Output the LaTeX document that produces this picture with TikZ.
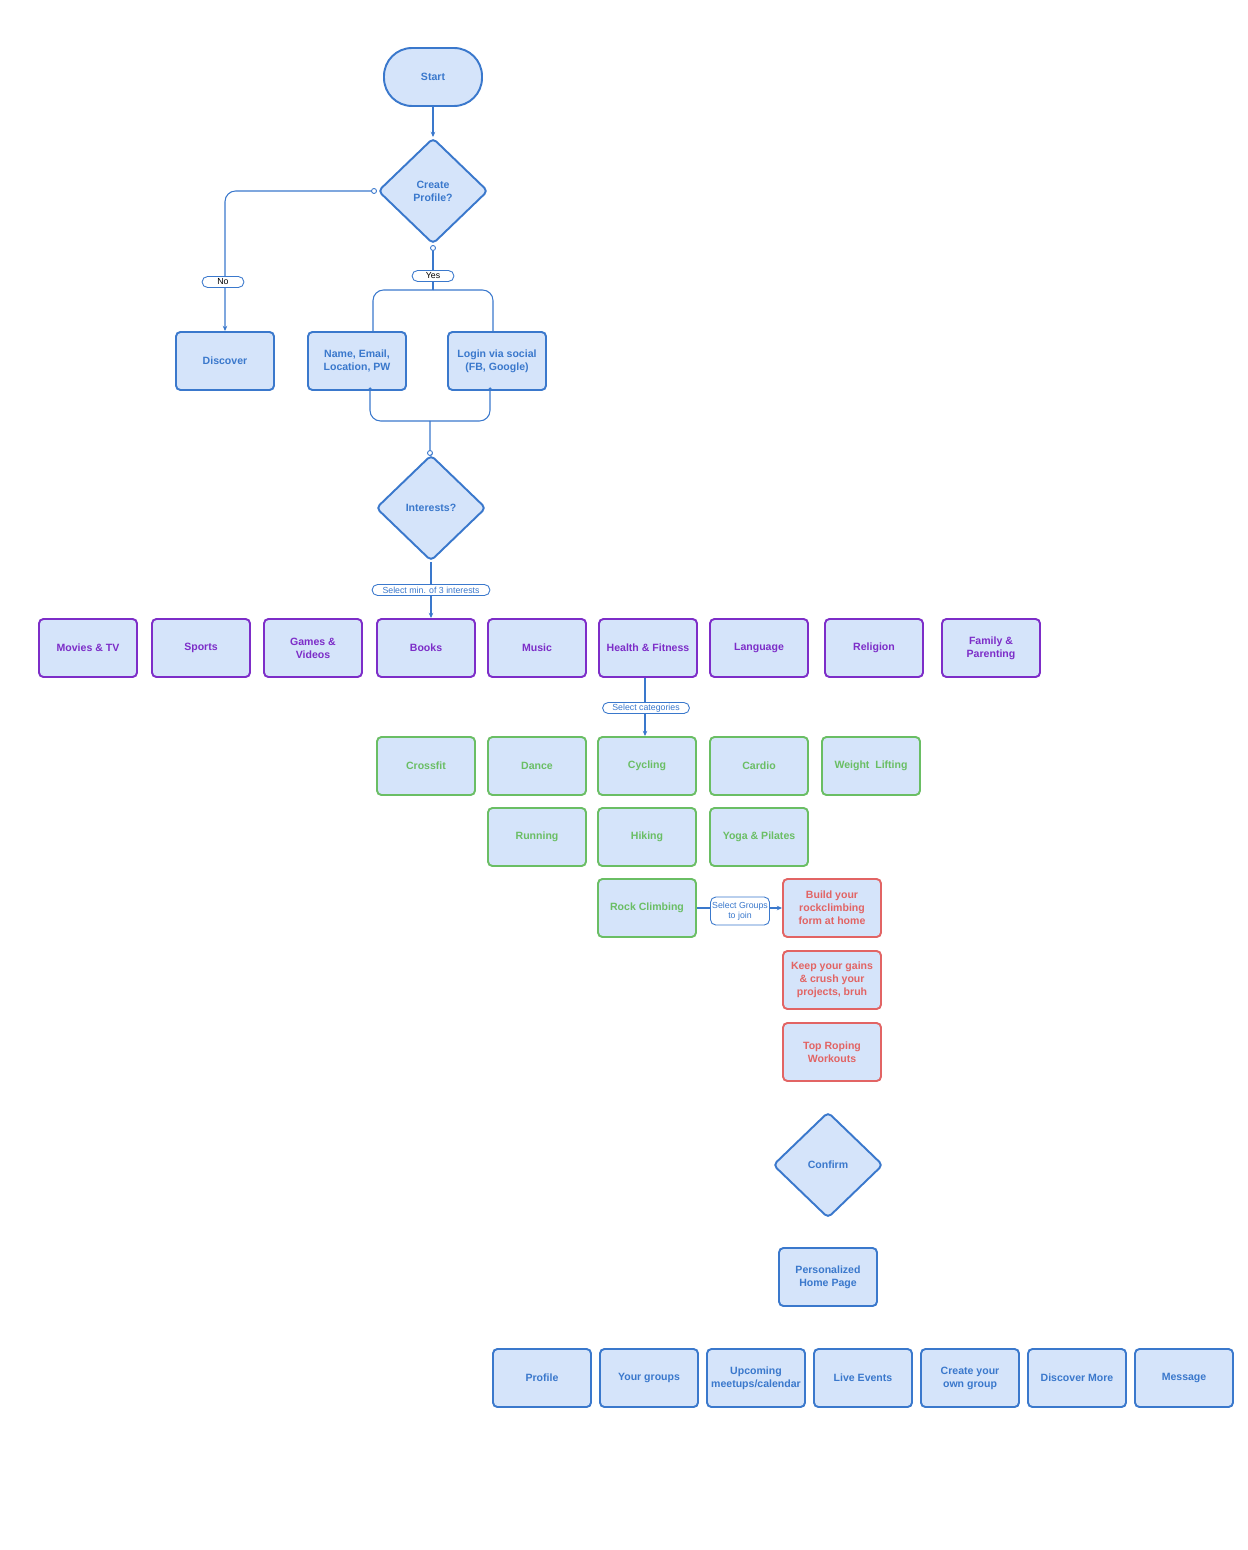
\documentclass[tikz,border=0pt]{standalone}
\usepackage{fontspec}
\setmainfont{Liberation Sans}
\usetikzlibrary{shapes.geometric}
\usetikzlibrary{shapes.misc}
\usetikzlibrary{arrows.meta}
\usetikzlibrary{calc}
\definecolor{boxfill}{RGB}{213,228,250}
\definecolor{flowblue}{RGB}{58,120,204}
\definecolor{catpurple}{RGB}{125,45,200}
\definecolor{subgreen}{RGB}{106,190,100}
\definecolor{grpred}{RGB}{226,100,100}
\tikzset{box/.style={draw=flowblue, fill=boxfill, line width=1.1pt, rounded corners=2.5pt, minimum width=1.96cm, minimum height=1.16cm, align=center, text=flowblue, font=\fontsize{6}{7.4}\selectfont\bfseries, inner sep=1pt},
catbox/.style={box, draw=catpurple, text=catpurple},
subbox/.style={box, draw=subgreen, text=subgreen},
grpbox/.style={box, draw=grpred, text=grpred},
decision/.style={diamond, draw=flowblue, fill=boxfill, line width=1.1pt, rounded corners=2.5pt, minimum width=2.2cm, minimum height=2.12cm, align=center, text=flowblue, font=\fontsize{6}{7.4}\selectfont\bfseries, inner sep=0pt},
terminal/.style={box, rounded corners=0.56cm},
conn/.style={draw=flowblue, line width=0.6pt},
tip/.style={-{Stealth[length=3pt,width=2.6pt]}},
pill/.style={rounded rectangle, draw=flowblue, fill=white, line width=0.5pt, text=flowblue, font=\fontsize{5}{5.8}\selectfont, inner sep=0.6pt, minimum height=0.22cm},
port/.style={circle, draw=flowblue, fill=white, line width=0.5pt, inner sep=0pt, minimum size=0.1cm},
pin/.style={circle, fill=flowblue, inner sep=0pt, minimum size=0.07cm}}
\begin{document}
\begin{tikzpicture}[x=0.02cm, y=-0.02cm]
                \useasboundingbox (0,0) rectangle (1247,1550);
                \node[terminal] (start) at (433,77) {Start};
                \node[decision] (create) at (433,191) {Create\\Profile?};
                \node[box] (discover) at (225,361) {Discover};
                \node[box] (name) at (357,361) {Name, Email,\\Location, PW};
                \node[box] (login) at (497,361) {Login via social\\(FB, Google)};
                \node[decision] (interests) at (431,508) {Interests?};

                \node[port] (noport) at (374,191) {};
                \node[port] (yesport) at (433,248) {};
                \node[port] (intport) at (430,453) {};
                \node[pin] (namepin) at (370,389) {};
                \node[pin] (loginpin) at (490,389) {};
                \coordinate (split) at (433,290);
                \coordinate (join) at (430,421);

                \draw[conn, tip] (start) -- (create);
                \draw[conn, tip, rounded corners=6pt] (noport.west) -| (discover.north);
                \draw[conn] (yesport) -- (split);
                \draw[conn, rounded corners=6pt] (split) -| ($(name.north)+(16,0)$);
                \draw[conn, rounded corners=6pt] (split) -| ($(login.north)+(-4,0)$);
                \draw[conn, rounded corners=6pt] (namepin) |- (join) -| (loginpin);
                \draw[conn] (join) -- (intport) -- (interests.north);
                \node[pill, minimum width=0.88cm, text=black] (nolabel) at (223,282) {No};
                \node[pill, minimum width=0.88cm, text=black] (yeslabel) at (433,276) {Yes};

                \node[catbox] (movies) at (88,648) {Movies \& TV};
                \node[catbox] (sports) at (201,648) {Sports};
                \node[catbox] (games) at (313,648) {Games \&\\Videos};
                \node[catbox] (books) at (426,648) {Books};
                \node[catbox] (music) at (537,648) {Music};
                \node[catbox] (health) at (648,648) {Health \& Fitness};
                \node[catbox] (language) at (759,648) {Language};
                \node[catbox] (religion) at (874,648) {Religion};
                \node[catbox] (family) at (991,648) {Family \&\\Parenting};
                \draw[conn, tip] (interests.south) -- (interests.south |- books.north);
                \node[pill, minimum width=2.4cm] (minlabel) at (431,590) {Select min. of 3 interests};

                \node[subbox] (crossfit) at (426,766) {Crossfit};
                \node[subbox] (dance) at (537,766) {Dance};
                \node[subbox] (cycling) at (647,766) {Cycling};
                \node[subbox] (cardio) at (759,766) {Cardio};
                \node[subbox] (weights) at (871,766) {Weight\ \ Lifting};
                \node[subbox] (running) at (537,837) {Running};
                \node[subbox] (hiking) at (647,837) {Hiking};
                \node[subbox] (yoga) at (759,837) {Yoga \& Pilates};
                \node[subbox] (rock) at (647,908) {Rock Climbing};
                \draw[conn, tip] ($(health.south)+(-3,0)$) -- ($(cycling.north)+(-2,0)$);
                \node[pill, minimum width=1.78cm] (catlabel) at (646,708) {Select categories};

                \node[grpbox] (build) at (832,908) {Build your\\rockclimbing\\form at home};
                \node[grpbox] (gains) at (832,980) {Keep your gains\\\& crush your\\projects, bruh};
                \node[grpbox] (roping) at (832,1052) {Top Roping\\Workouts};
                \draw[conn, tip] (rock.east) -- (build.west);
                \node[draw=flowblue, fill=white, line width=0.5pt, rounded corners=3pt, text=flowblue, font=\fontsize{5}{5.8}\selectfont, align=center, inner sep=0.5pt, minimum width=1.18cm, minimum height=0.56cm] (grplabel) at (740,911) {Select Groups\\to join};

                \node[decision] (confirm) at (828,1165) {Confirm};
                \node[box] (home) at (828,1277) {Personalized\\Home Page};

                \node[box] (profile) at (542,1378) {Profile};
                \node[box] (yourgroups) at (649,1378) {Your groups};
                \node[box] (upcoming) at (756,1378) {Upcoming\\meetups/calendar};
                \node[box] (live) at (863,1378) {Live Events};
                \node[box] (owngroup) at (970,1378) {Create your\\own group};
                \node[box] (more) at (1077,1378) {Discover More};
                \node[box] (message) at (1184,1378) {Message};
            \end{tikzpicture}
\end{document}
